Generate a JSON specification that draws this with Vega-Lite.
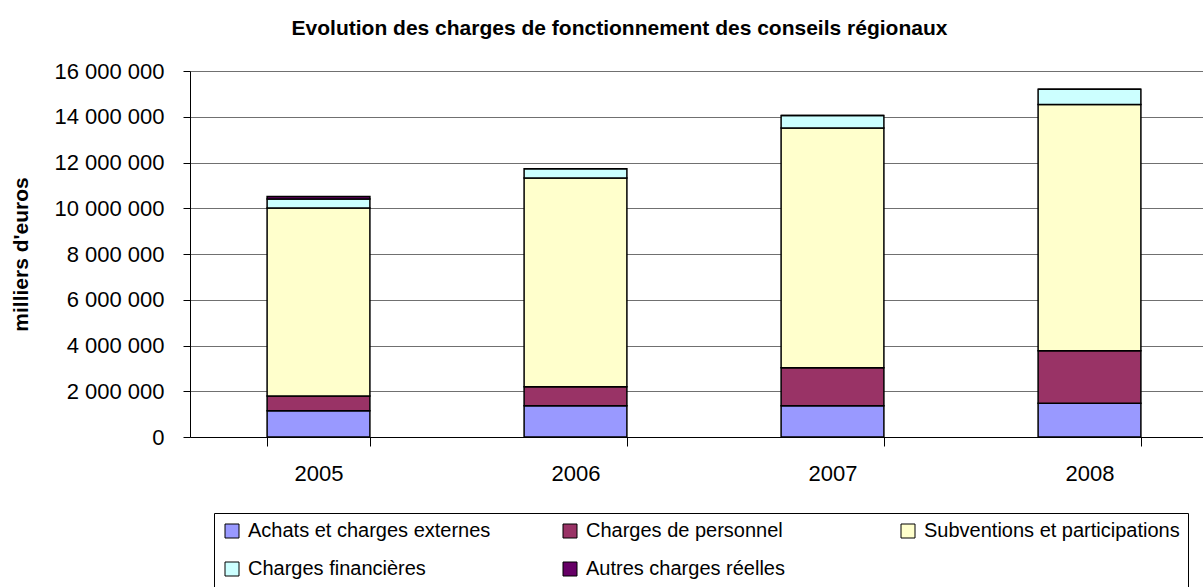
{
  "$schema": "https://vega.github.io/schema/vega-lite/v6.json",
  "width": 1013,
  "height": 366,
  "autosize": "none",
  "padding": {"left": 190, "top": 71, "right": 0, "bottom": 150},
  "background": "white",
  "config": {"view": {"stroke": null}, "font": "Liberation Sans"},
  "title": {
    "text": "Evolution des charges de fonctionnement des conseils régionaux",
    "anchor": "middle",
    "frame": "group",
    "dx": -77,
    "offset": 21,
    "fontSize": 21,
    "font": "Liberation Sans",
    "fontWeight": "bold",
    "color": "black"
  },
  "data": {
    "values": [
      {"annee": "2005", "poste": "Achats et charges externes", "valeur": 1150000},
      {"annee": "2005", "poste": "Charges de personnel", "valeur": 640000},
      {"annee": "2005", "poste": "Subventions et participations", "valeur": 8220000},
      {"annee": "2005", "poste": "Charges financières", "valeur": 390000},
      {"annee": "2005", "poste": "Autres charges réelles", "valeur": 110000},
      {"annee": "2006", "poste": "Achats et charges externes", "valeur": 1370000},
      {"annee": "2006", "poste": "Charges de personnel", "valeur": 830000},
      {"annee": "2006", "poste": "Subventions et participations", "valeur": 9120000},
      {"annee": "2006", "poste": "Charges financières", "valeur": 410000},
      {"annee": "2006", "poste": "Autres charges réelles", "valeur": 0},
      {"annee": "2007", "poste": "Achats et charges externes", "valeur": 1370000},
      {"annee": "2007", "poste": "Charges de personnel", "valeur": 1660000},
      {"annee": "2007", "poste": "Subventions et participations", "valeur": 10480000},
      {"annee": "2007", "poste": "Charges financières", "valeur": 540000},
      {"annee": "2007", "poste": "Autres charges réelles", "valeur": 0},
      {"annee": "2008", "poste": "Achats et charges externes", "valeur": 1470000},
      {"annee": "2008", "poste": "Charges de personnel", "valeur": 2300000},
      {"annee": "2008", "poste": "Subventions et participations", "valeur": 10770000},
      {"annee": "2008", "poste": "Charges financières", "valeur": 660000},
      {"annee": "2008", "poste": "Autres charges réelles", "valeur": 0}
    ]
  },
  "transform": [
    {"calculate": "indexof(['Achats et charges externes', 'Charges de personnel', 'Subventions et participations', 'Charges financières', 'Autres charges réelles'], datum.poste)", "as": "rang"}
  ],
  "mark": {"type": "bar", "stroke": "black", "strokeWidth": 1.5},
  "encoding": {
    "x": {
      "field": "annee",
      "type": "nominal",
      "scale": {"range": [0, 1028], "paddingInner": 0.6, "paddingOuter": 0.3},
      "axis": {
        "title": null,
        "labelAngle": 0,
        "tickBand": "extent",
        "tickSize": 9,
        "tickColor": "black",
        "domainColor": "black",
        "labelFontSize": 22,
        "labelFont": "Liberation Sans",
        "labelColor": "black",
        "labelPadding": 17,
        "grid": false
      }
    },
    "y": {
      "field": "valeur",
      "type": "quantitative",
      "stack": "zero",
      "scale": {"domain": [0, 16000000], "nice": false},
      "axis": {
        "values": [0, 2000000, 4000000, 6000000, 8000000, 10000000, 12000000, 14000000, 16000000],
        "labelExpr": "replace(replace(format(datum.value, ','), ',', ' '), ',', ' ')",
        "title": "milliers d'euros",
        "titleFontSize": 21,
        "titleFont": "Liberation Sans",
        "titleFontWeight": "bold",
        "titleColor": "black",
        "titleX": -159,
        "titleY": 183,
        "labelFontSize": 22,
        "labelFont": "Liberation Sans",
        "labelColor": "black",
        "labelPadding": 19,
        "tickSize": 7,
        "tickColor": "black",
        "domainColor": "black",
        "grid": true,
        "gridColor": "#707070",
        "gridOpacity": 1
      }
    },
    "order": {"field": "rang", "type": "quantitative", "sort": "ascending"},
    "color": {
      "field": "poste",
      "type": "nominal",
      "sort": ["Achats et charges externes", "Charges de personnel", "Subventions et participations", "Charges financières", "Autres charges réelles"],
      "scale": {
        "domain": ["Achats et charges externes", "Charges de personnel", "Subventions et participations", "Charges financières", "Autres charges réelles"],
        "range": ["#9999FF", "#993366", "#FFFFCC", "#CCFFFF", "#660066"]
      },
      "legend": {
        "title": null,
        "orient": "none",
        "legendX": 24,
        "legendY": 442,
        "direction": "horizontal",
        "columns": 3,
        "gridAlign": "all",
        "columnPadding": 56,
        "rowPadding": 18,
        "symbolType": "square",
        "symbolSize": 196,
        "symbolStrokeColor": "black",
        "symbolStrokeWidth": 1,
        "symbolOpacity": 1,
        "labelFontSize": 20,
        "labelFont": "Liberation Sans",
        "labelColor": "black",
        "labelOffset": 6,
        "labelLimit": 400,
        "strokeColor": "black",
        "fillColor": "white",
        "padding": 8
      }
    }
  }
}
